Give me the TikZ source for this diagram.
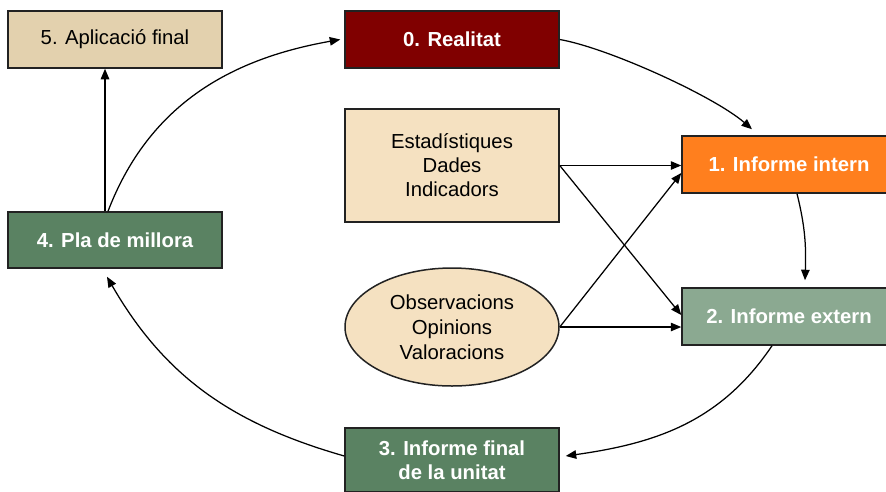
\documentclass[tikz,border=0pt]{standalone}
\usepackage{fontspec}
\setmainfont{Liberation Sans}
\usetikzlibrary{arrows.meta,shapes.geometric}
\definecolor{tanA}{HTML}{E3D1AE}
\definecolor{wheatA}{HTML}{F5E1C1}
\definecolor{redA}{HTML}{800000}
\definecolor{orangeA}{HTML}{FF7F1E}
\definecolor{greenA}{HTML}{5A8262}
\definecolor{greenB}{HTML}{8BA991}
\definecolor{edgeA}{HTML}{222222}
\begin{document}
\begin{tikzpicture}[x=1pt,y=-1pt,
  box/.style={draw=edgeA,line width=1.5pt,minimum width=214pt,minimum height=57pt,inner sep=0pt,align=center,font=\fontsize{20.3}{24}\selectfont},
  darkbox/.style={box,text=white,font=\fontsize{20.3}{24}\selectfont\bfseries},
  arr/.style={line width=1.25pt,-{Triangle[length=10.5pt,width=8.5pt]}}]
\useasboundingbox (0,0) rectangle (886,491);
\clip (0,0) rectangle (886,491);
\fill[white] (0,0) rectangle (886,491);

\node[box,fill=tanA] (p5) at (115,39.5) {5. Aplicació final};
\node[darkbox,fill=redA] (p0) at (452,39.5) {0. Realitat};
\node[box,fill=wheatA,minimum height=113pt] (es) at (452,165.5) {Estadístiques\\Dades\\Indicadors};
\node[darkbox,fill=orangeA] (p1) at (789,164.5) {1. Informe intern};
\node[darkbox,fill=greenA,minimum height=56pt] (p4) at (115,240) {4. Pla de millora};
\node[box,fill=wheatA,ellipse,minimum width=214pt,minimum height=118pt,font=\fontsize{20.3}{25}\selectfont] (el) at (452,327) {Observacions\\Opinions\\Valoracions};
\node[darkbox,fill=greenB] (p2) at (789,316.5) {2. Informe extern};
\node[darkbox,fill=greenA,minimum height=64pt] (p3) at (452,460) {3. Informe final\\de la unitat};

\draw[arr] ([xshift=-10pt]p4.north) -- ([xshift=-10pt]p5.south);
\draw[arr] ([xshift=-7pt]p4.north) to[out=69,in=190] ([xshift=-4pt]p0.west);
\draw[arr] (p0.east) to[out=-10,in=139,looseness=0.6] ([xshift=-37pt,yshift=6pt]p1.north);
\draw[arr] ([xshift=8pt]p1.south) to[out=-76,in=88] ([xshift=16pt,yshift=7pt]p2.north);
\draw[arr] ([xshift=-17pt]p2.south) to[out=-124,in=8] ([xshift=6pt,yshift=4pt]p3.east);
\draw[arr] ([yshift=4pt]p3.west) to[out=164,in=-60] ([xshift=-8pt,yshift=-8pt]p4.south);

\draw[arr] (es.east) -- (es.east -| p1.west);
\draw[arr] (es.east) -- ([yshift=1.5pt]p2.west);
\draw[arr] (el.east) -- ([yshift=-8.5pt]p1.west);
\draw[arr] (el.east) -- (el.east -| p2.west);
\end{tikzpicture}
\end{document}
